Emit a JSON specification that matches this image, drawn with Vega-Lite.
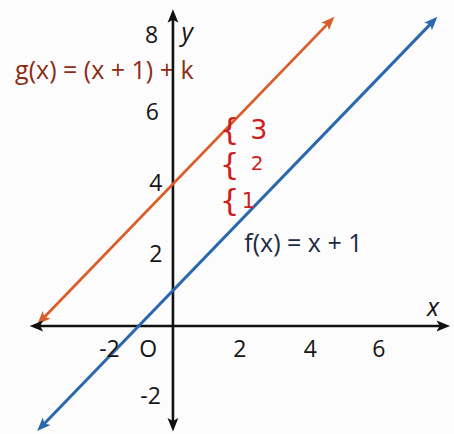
{
  "$schema": "https://vega.github.io/schema/vega-lite/v6.json",
  "width": 454,
  "height": 434,
  "autosize": {"type": "fit", "contains": "padding"},
  "padding": 0,
  "background": "#fdfcfc",
  "config": {"view": {"stroke": null}},
  "datasets": {
    "ruled": [
      {"y": -3}, {"y": -2}, {"y": -1}, {"y": 1}, {"y": 2}, {"y": 3},
      {"y": 4}, {"y": 5}, {"y": 6}, {"y": 7}, {"y": 8}, {"y": 9}
    ],
    "axes": [
      {"name": "x", "x": -4.05, "x2": 7.85, "y": 0, "y2": 0},
      {"name": "y", "x": 0, "x2": 0, "y": -2.8, "y2": 8.75}
    ],
    "f_line": [
      {"x": -3.85, "y": -2.85},
      {"x": 7.6, "y": 8.6}
    ],
    "g_line": [
      {"x": -3.85, "y": 0.15},
      {"x": 4.6, "y": 8.6}
    ],
    "f_heads": [
      {"x": 7.55, "y": 8.55, "angle": 44},
      {"x": -3.8, "y": -2.8, "angle": 224}
    ],
    "g_heads": [
      {"x": 4.55, "y": 8.55, "angle": 44},
      {"x": -3.8, "y": 0.2, "angle": 224}
    ],
    "axis_heads": [
      {"x": 7.85, "y": 0, "angle": 90},
      {"x": -3.95, "y": 0, "angle": 270},
      {"x": 0, "y": 8.7, "angle": 0},
      {"x": 0, "y": -2.75, "angle": 180}
    ],
    "ticks": [
      {"label": "-2", "x": -1.85, "y": -0.68},
      {"label": "O", "x": -0.72, "y": -0.68},
      {"label": "2", "x": 1.95, "y": -0.68},
      {"label": "4", "x": 4.0, "y": -0.68},
      {"label": "6", "x": 6.0, "y": -0.68},
      {"label": "8", "x": -0.62, "y": 8.18},
      {"label": "6", "x": -0.6, "y": 6.0},
      {"label": "4", "x": -0.5, "y": 4.0},
      {"label": "2", "x": -0.5, "y": 2.0},
      {"label": "-2", "x": -0.65, "y": -2.0}
    ],
    "names": [
      {"label": "x", "x": 7.58, "y": 0.52},
      {"label": "y", "x": 0.42, "y": 8.25}
    ],
    "braces": [
      {"x": 1.65, "y": 5.5}, {"x": 1.65, "y": 4.5}, {"x": 1.65, "y": 3.5}
    ],
    "shifts": [
      {"label": "3", "x": 2.5, "y": 5.5, "size": 27},
      {"label": "2", "x": 2.45, "y": 4.55, "size": 20},
      {"label": "1", "x": 2.2, "y": 3.5, "size": 21}
    ]
  },
  "encoding": {
    "x": {"field": "x", "type": "quantitative", "axis": null,
          "scale": {"domain": [-5.04, 8.19], "nice": false, "zero": false}},
    "y": {"field": "y", "type": "quantitative", "axis": null,
          "scale": {"domain": [-3.04, 9.18], "nice": false, "zero": false}}
  },
  "layer": [
    {
      "data": {"name": "ruled"},
      "mark": {"type": "rule", "color": "#dacdcd", "strokeWidth": 1.2},
      "encoding": {"x": {"datum": -4.15}, "x2": {"datum": 7.95}}
    },
    {
      "data": {"values": [{"label": "g(x) = (x + 1) + k", "x": -4.6, "y": 7.17}]},
      "mark": {"type": "text", "font": "Open Sans", "fontSize": 25, "fontWeight": 500, "color": "#8c2d14",
               "align": "left", "baseline": "middle"},
      "encoding": {"text": {"field": "label"}}
    },
    {
      "data": {"values": [{"label": "f(x) = x + 1", "x": 2.08, "y": 2.3}]},
      "mark": {"type": "text", "font": "Open Sans", "fontSize": 25, "fontWeight": 500, "color": "#1c2a44",
               "align": "left", "baseline": "middle"},
      "encoding": {"text": {"field": "label"}}
    },
    {
      "data": {"name": "axes"},
      "mark": {"type": "rule", "color": "#111111", "strokeWidth": 2.6},
      "encoding": {"x2": {"field": "x2"}, "y2": {"field": "y2"}}
    },
    {
      "data": {"name": "f_line"},
      "mark": {"type": "line", "strokeWidth": 3, "color": "#2a68ad"},
      "encoding": {}
    },
    {
      "data": {"name": "g_line"},
      "mark": {"type": "line", "strokeWidth": 2.8, "color": "#d85f2a"},
      "encoding": {}
    },
    {
      "data": {"name": "f_heads"},
      "mark": {"type": "point", "filled": true, "opacity": 1, "size": 240, "color": "#2a68ad",
               "shape": "M0,-1L0.7,0.75L0,0.35L-0.7,0.75Z"},
      "encoding": {"angle": {"field": "angle", "type": "quantitative", "scale": null}}
    },
    {
      "data": {"name": "g_heads"},
      "mark": {"type": "point", "filled": true, "opacity": 1, "size": 240, "color": "#d85f2a",
               "shape": "M0,-1L0.7,0.75L0,0.35L-0.7,0.75Z"},
      "encoding": {"angle": {"field": "angle", "type": "quantitative", "scale": null}}
    },
    {
      "data": {"name": "axis_heads"},
      "mark": {"type": "point", "filled": true, "opacity": 1, "size": 240, "color": "#111111",
               "shape": "M0,-1L0.7,0.75L0,0.35L-0.7,0.75Z"},
      "encoding": {"angle": {"field": "angle", "type": "quantitative", "scale": null}}
    },
    {
      "data": {"name": "ticks"},
      "mark": {"type": "text", "font": "Open Sans", "fontSize": 23, "fontWeight": 500,
               "color": "#151515", "align": "center", "baseline": "middle"},
      "encoding": {"text": {"field": "label"}}
    },
    {
      "data": {"name": "names"},
      "mark": {"type": "text", "font": "Open Sans", "fontStyle": "italic", "fontSize": 25,
               "color": "#151515", "align": "center", "baseline": "middle"},
      "encoding": {"text": {"field": "label"}}
    },
    {
      "data": {"name": "braces"},
      "mark": {"type": "text", "font": "DejaVu Sans", "fontSize": 31, "color": "#cc1f1f",
               "align": "center", "baseline": "middle"},
      "encoding": {"text": {"value": "{"}}
    },
    {
      "data": {"name": "shifts"},
      "mark": {"type": "text", "font": "DejaVu Sans", "color": "#cc1f1f",
               "align": "center", "baseline": "middle"},
      "encoding": {
        "text": {"field": "label"},
        "size": {"field": "size", "type": "quantitative", "scale": null}
      }
    }
  ]
}
